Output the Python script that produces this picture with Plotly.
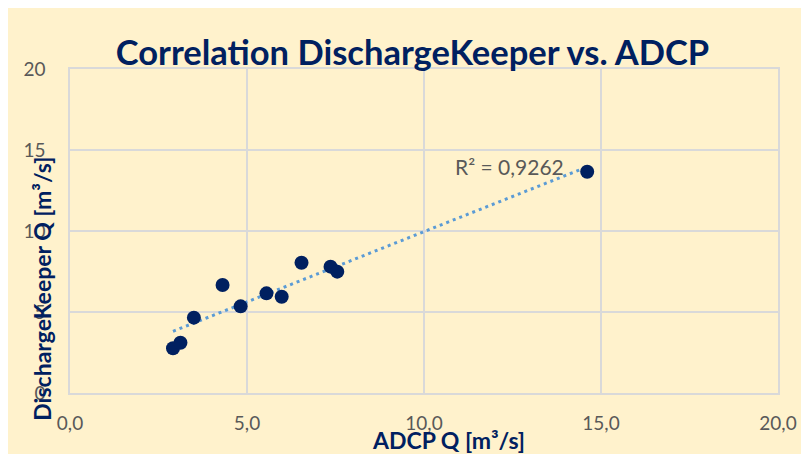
import numpy as np
import plotly.graph_objects as go

adcp_q = [2.91, 3.12, 3.50, 4.31, 4.82, 5.55, 5.98, 6.54, 7.36, 7.55, 14.61]
dk_q = [2.76, 3.10, 4.65, 6.67, 5.35, 6.15, 5.94, 8.04, 7.80, 7.49, 13.66]
r2_label = "R² = 0,9262"
title_text = "Correlation DischargeKeeper vs. ADCP"
x_title = "ADCP Q [m³/s]"
y_title = "DischargeKeeper Q [m³/s]"
x_ticks = [0, 5, 10, 15, 20]
y_ticks = [0, 5, 10, 15, 20]

NAVY = "#002060"
GRAY_TXT = "#595959"
GRID = "#D9D9D9"
BG = "#FFF2CC"
FONT = "Lato"

slope, intercept = np.polyfit(adcp_q, dk_q, 1)
tx = np.array([min(adcp_q), max(adcp_q)])
ty = slope * tx + intercept

fig = go.Figure()
fig.add_trace(go.Scatter(x=tx, y=ty, mode="lines",
                         line=dict(color="#5B9BD5", width=3, dash="3px,4px"),
                         hoverinfo="skip", showlegend=False))
fig.add_trace(go.Scatter(x=adcp_q, y=dk_q, mode="markers",
                         marker=dict(color=NAVY, size=14), showlegend=False))

fig.add_annotation(x=12.42, y=14.01, xref="x", yref="y", text=r2_label,
                   showarrow=False, font=dict(family=FONT, size=21, color=GRAY_TXT))
fig.add_annotation(x=0.535, y=-0.145, xref="paper", yref="paper", text=f"<b>{x_title}</b>",
                   xanchor="center", yanchor="middle",
                   showarrow=False, font=dict(family=FONT, size=23, color=NAVY))
fig.add_annotation(x=-0.040, y=0.321, xref="paper", yref="paper", text=f"<b>{y_title}</b>",
                   xanchor="center", yanchor="middle",
                   textangle=-90, showarrow=False, font=dict(family=FONT, size=23, color=NAVY))

fig.update_layout(
    width=809, height=454,
    margin=dict(l=62, r=39, t=61, b=69, autoexpand=False),
    paper_bgcolor=BG, plot_bgcolor=BG,
    separators=",.",
    title=dict(text=f"<b>{title_text}</b>", x=0.5, xanchor="center", y=0.9, yanchor="middle",
               font=dict(family=FONT, size=34.5, color=NAVY)),
    font=dict(family=FONT, size=19, color=GRAY_TXT),
)
fig.update_xaxes(range=[0, 20], tickvals=x_ticks, tickformat=".1f", showgrid=True,
                 gridcolor=GRID, gridwidth=1.5, zeroline=False, showline=True, linecolor=GRID,
                 linewidth=1.5, mirror=True, ticks="", ticklabelstandoff=12, automargin=False)
fig.update_yaxes(range=[0, 20], tickvals=y_ticks, tickformat="d", showgrid=True,
                 gridcolor=GRID, gridwidth=1.5, zeroline=False, showline=True, linecolor=GRID,
                 linewidth=1.5, mirror=True, ticks="", ticklabelstandoff=19, automargin=False)

fig.write_html("out.html")
